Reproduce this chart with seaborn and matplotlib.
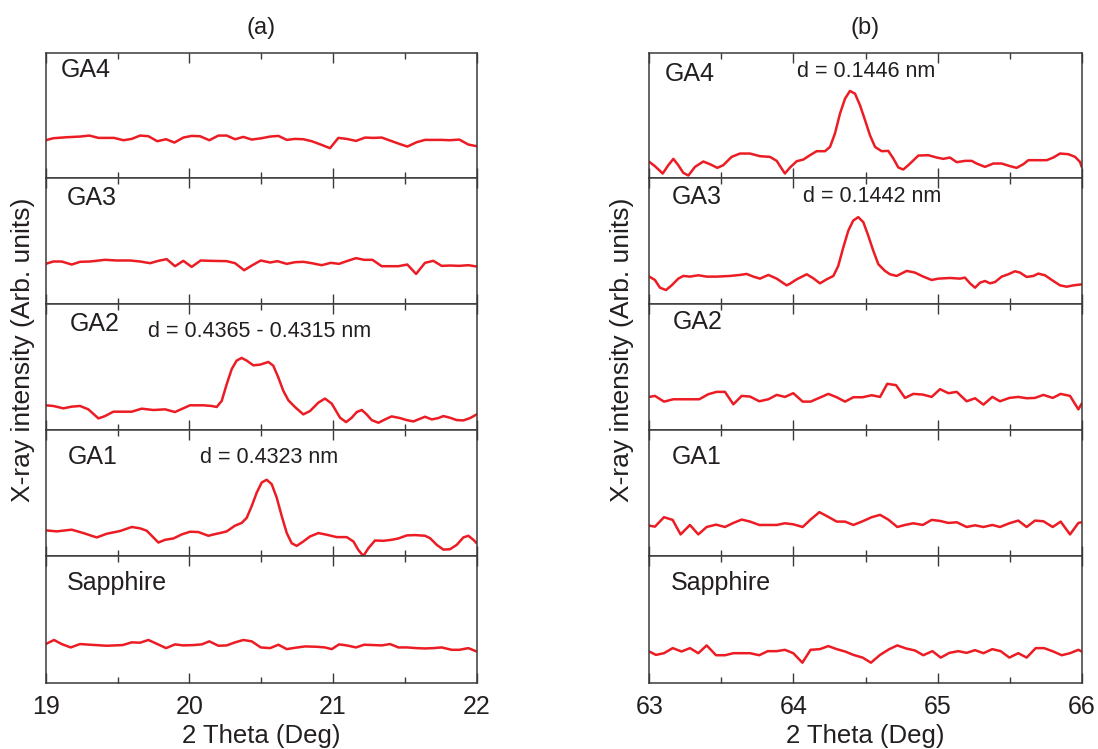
import matplotlib
matplotlib.use("Agg")
import matplotlib.pyplot as plt
import seaborn as sns

# ---------------- data (2θ in degrees, intensity in arbitrary units) -------------
a_ga4_x = [19.000, 19.053, 19.146, 19.239, 19.304, 19.367, 19.476, 19.541, 19.599, 19.657,
           19.715, 19.777, 19.838, 19.896, 19.958, 20.016, 20.074, 20.139, 20.202, 20.260,
           20.318, 20.376, 20.434, 20.503, 20.562, 20.620, 20.678, 20.736, 20.794, 20.852,
           20.921, 20.979, 21.037, 21.095, 21.160, 21.223, 21.281, 21.339, 21.397, 21.455,
           21.517, 21.582, 21.640, 21.698, 21.756, 21.814, 21.879, 21.942, 22.000]
a_ga4_y = [112, 118, 121, 123, 126, 119, 119, 112, 116, 126,
           124, 109, 115, 105, 120, 125, 124, 112, 126, 126,
           115, 122, 114, 118, 123, 125, 113, 116, 115, 109,
           98, 88, 119, 116, 110, 120, 119, 120, 111, 102,
           93, 106, 113, 113, 113, 112, 114, 99, 94]

a_ga3_x = [19.000, 19.053, 19.111, 19.181, 19.239, 19.309, 19.413, 19.494, 19.587, 19.657,
           19.727, 19.784, 19.842, 19.900, 19.958, 20.016, 20.079, 20.144, 20.260, 20.318,
           20.381, 20.439, 20.497, 20.562, 20.613, 20.678, 20.736, 20.794, 20.852, 20.921,
           20.984, 21.042, 21.095, 21.160, 21.216, 21.274, 21.339, 21.397, 21.455, 21.517,
           21.578, 21.640, 21.698, 21.756, 21.814, 21.879, 21.942, 22.000]
a_ga3_y = [118, 125, 125, 116, 124, 125, 130, 128, 128, 125,
           120, 127, 132, 111, 127, 109, 128, 127, 126, 120,
           99, 114, 128, 122, 126, 118, 123, 124, 120, 114,
           121, 118, 126, 135, 130, 130, 111, 111, 111, 116,
           88, 121, 127, 112, 113, 112, 114, 110]

a_ga2_x = [19.000, 19.053, 19.123, 19.181, 19.239, 19.297, 19.367, 19.413, 19.471, 19.529,
           19.599, 19.668, 19.749, 19.831, 19.900, 20.004, 20.097, 20.155, 20.190, 20.225,
           20.260, 20.295, 20.329, 20.364, 20.399, 20.445, 20.492, 20.550, 20.584, 20.619,
           20.654, 20.689, 20.735, 20.793, 20.840, 20.898, 20.944, 20.991, 21.049, 21.091,
           21.130, 21.165, 21.200, 21.234, 21.269, 21.316, 21.362, 21.408, 21.466, 21.513,
           21.559, 21.606, 21.640, 21.687, 21.733, 21.768, 21.814, 21.861, 21.907, 21.954,
           22.000]
a_ga2_y = [72, 70, 63, 68, 70, 60, 33, 40, 53, 53,
           53, 62, 58, 60, 52, 72, 72, 70, 67, 85,
           135, 180, 205, 213, 205, 191, 193, 201, 190, 155,
           115, 87, 67, 45, 55, 80, 92, 77, 35, 22,
           35, 52, 58, 45, 28, 20, 30, 39, 34, 28,
           24, 32, 38, 30, 34, 40, 35, 28, 27, 34,
           45]

a_ga1_x = [19.000, 19.077, 19.181, 19.262, 19.355, 19.425, 19.517, 19.599, 19.657, 19.703,
           19.738, 19.784, 19.831, 19.889, 19.947, 20.005, 20.063, 20.132, 20.190, 20.213,
           20.260, 20.318, 20.364, 20.399, 20.434, 20.469, 20.504, 20.538, 20.573, 20.608,
           20.643, 20.678, 20.712, 20.747, 20.793, 20.840, 20.898, 20.956, 21.026, 21.095,
           21.142, 21.176, 21.211, 21.246, 21.292, 21.350, 21.408, 21.455, 21.513, 21.571,
           21.640, 21.675, 21.722, 21.768, 21.814, 21.861, 21.907, 21.942, 21.977, 22.000]
a_ga1_y = [76, 73, 78, 68, 55, 66, 74, 86, 82, 75,
           60, 40, 48, 52, 64, 72, 71, 60, 66, 68,
           73, 90, 98, 113, 148, 188, 218, 226, 213, 173,
           118, 68, 38, 30, 43, 58, 68, 63, 56, 56,
           43, 18, 0, 23, 46, 45, 48, 52, 61, 62,
           60, 53, 33, 19, 20, 33, 55, 60, 48, 38]

a_sap_x = [19.000, 19.058, 19.111, 19.174, 19.239, 19.309, 19.425, 19.536, 19.599, 19.657,
           19.715, 19.777, 19.838, 19.900, 19.958, 20.028, 20.086, 20.139, 20.202, 20.260,
           20.318, 20.376, 20.434, 20.497, 20.562, 20.620, 20.678, 20.736, 20.805, 20.886,
           20.944, 20.991, 21.042, 21.095, 21.160, 21.216, 21.281, 21.339, 21.397, 21.455,
           21.517, 21.582, 21.640, 21.698, 21.756, 21.826, 21.879, 21.942, 22.000]
a_sap_y = [115, 127, 115, 105, 115, 113, 110, 112, 120, 119,
           127, 115, 103, 114, 111, 112, 114, 123, 110, 111,
           120, 127, 123, 105, 103, 113, 100, 104, 108, 107,
           105, 100, 114, 111, 105, 113, 112, 111, 115, 105,
           105, 103, 102, 103, 105, 98, 98, 103, 93]

b_ga4_x = [63.000, 63.039, 63.093, 63.132, 63.167, 63.201, 63.236, 63.271, 63.317, 63.375,
           63.421, 63.472, 63.513, 63.571, 63.629, 63.699, 63.768, 63.837, 63.884, 63.918,
           63.941, 63.976, 64.023, 64.069, 64.115, 64.161, 64.219, 64.254, 64.288, 64.323,
           64.358, 64.392, 64.427, 64.462, 64.497, 64.531, 64.566, 64.612, 64.658, 64.693,
           64.728, 64.762, 64.797, 64.867, 64.936, 64.994, 65.040, 65.086, 65.133, 65.190,
           65.237, 65.271, 65.329, 65.387, 65.445, 65.503, 65.549, 65.595, 65.630, 65.688,
           65.757, 65.803, 65.850, 65.907, 65.954, 65.988, 66.000]
b_ga4_y = [47, 34, 12, 37, 56, 37, 14, 6, 32, 48,
           40, 29, 37, 62, 72, 72, 64, 62, 50, 27,
           12, 30, 49, 54, 67, 79, 79, 92, 132, 192,
           237, 260, 252, 217, 172, 127, 92, 79, 80, 57,
           30, 24, 37, 66, 67, 60, 56, 60, 46, 50,
           50, 42, 32, 42, 42, 34, 29, 40, 52, 52,
           52, 60, 72, 70, 62, 47, 32]

b_ga3_x = [63.000, 63.039, 63.074, 63.116, 63.155, 63.201, 63.236, 63.282, 63.340, 63.398,
           63.467, 63.560, 63.629, 63.675, 63.722, 63.768, 63.826, 63.884, 63.953, 63.976,
           64.023, 64.092, 64.138, 64.184, 64.231, 64.277, 64.311, 64.346, 64.381, 64.415,
           64.450, 64.485, 64.519, 64.554, 64.589, 64.635, 64.670, 64.716, 64.786, 64.843,
           64.901, 64.959, 65.005, 65.086, 65.156, 65.190, 65.225, 65.260, 65.295, 65.329,
           65.364, 65.399, 65.445, 65.491, 65.537, 65.572, 65.618, 65.665, 65.699, 65.745,
           65.803, 65.850, 65.896, 65.942, 66.000]
b_ga3_y = [80, 70, 47, 40, 54, 74, 82, 80, 84, 80,
           80, 82, 85, 88, 80, 74, 85, 74, 54, 59,
           72, 87, 75, 60, 72, 82, 112, 167, 217, 247,
           257, 242, 202, 157, 117, 97, 87, 82, 97, 92,
           80, 70, 74, 76, 74, 77, 60, 47, 62, 67,
           60, 64, 80, 87, 96, 92, 79, 82, 89, 84,
           67, 54, 50, 54, 57]

b_ga2_x = [63.000, 63.039, 63.102, 63.167, 63.236, 63.347, 63.409, 63.467, 63.525, 63.583,
           63.641, 63.699, 63.763, 63.826, 63.884, 63.941, 63.999, 64.064, 64.119, 64.184,
           64.242, 64.300, 64.358, 64.416, 64.480, 64.543, 64.601, 64.651, 64.712, 64.774,
           64.832, 64.897, 64.959, 65.017, 65.075, 65.133, 65.202, 65.260, 65.318, 65.380,
           65.433, 65.498, 65.560, 65.618, 65.676, 65.734, 65.799, 65.854, 65.919, 65.977,
           66.000]
b_ga2_y = [97, 100, 83, 90, 90, 90, 105, 112, 112, 75,
           100, 98, 84, 90, 103, 97, 108, 83, 83, 95,
           106, 96, 83, 96, 96, 102, 97, 136, 132, 94,
           106, 104, 97, 120, 108, 112, 84, 93, 74, 97,
           84, 94, 97, 93, 94, 103, 94, 106, 100, 60,
           77]

b_ga1_x = [63.000, 63.039, 63.102, 63.162, 63.217, 63.282, 63.340, 63.398, 63.463, 63.525,
           63.583, 63.641, 63.699, 63.763, 63.884, 63.941, 63.999, 64.064, 64.119, 64.180,
           64.242, 64.300, 64.358, 64.416, 64.480, 64.543, 64.601, 64.658, 64.721, 64.774,
           64.832, 64.897, 64.959, 65.017, 65.075, 65.133, 65.202, 65.260, 65.318, 65.380,
           65.433, 65.498, 65.560, 65.618, 65.676, 65.734, 65.799, 65.854, 65.919, 65.977,
           66.000]
b_ga1_y = [90, 87, 115, 107, 64, 92, 64, 86, 93, 86,
           98, 108, 102, 92, 92, 97, 94, 86, 108, 130,
           116, 102, 102, 92, 103, 115, 122, 108, 86, 92,
           97, 92, 107, 104, 98, 100, 86, 91, 86, 92,
           86, 97, 105, 86, 105, 103, 86, 102, 64, 98,
           100]

b_sap_x = [63.000, 63.046, 63.102, 63.162, 63.224, 63.282, 63.340, 63.398, 63.463, 63.525,
           63.583, 63.699, 63.763, 63.821, 63.884, 63.941, 63.999, 64.062, 64.119, 64.184,
           64.242, 64.300, 64.358, 64.416, 64.480, 64.538, 64.601, 64.665, 64.721, 64.781,
           64.843, 64.901, 64.964, 65.022, 65.082, 65.144, 65.202, 65.260, 65.318, 65.380,
           65.438, 65.498, 65.560, 65.618, 65.681, 65.739, 65.803, 65.861, 65.919, 65.977,
           66.000]
b_sap_y = [93, 83, 88, 103, 93, 103, 88, 111, 82, 82,
           88, 88, 82, 94, 94, 98, 88, 60, 98, 100,
           109, 100, 93, 83, 75, 60, 83, 100, 111, 102,
           96, 82, 94, 75, 89, 94, 89, 97, 88, 100,
           94, 75, 88, 75, 103, 103, 93, 82, 88, 98,
           93]

sample_names = ["GA4", "GA3", "GA2", "GA1", "Sapphire"]
left_series = [(a_ga4_x, a_ga4_y), (a_ga3_x, a_ga3_y), (a_ga2_x, a_ga2_y),
               (a_ga1_x, a_ga1_y), (a_sap_x, a_sap_y)]
right_series = [(b_ga4_x, b_ga4_y), (b_ga3_x, b_ga3_y), (b_ga2_x, b_ga2_y),
                (b_ga1_x, b_ga1_y), (b_sap_x, b_sap_y)]
left_ticks = [19, 20, 21, 22]
right_ticks = [63, 64, 65, 66]
left_notes = {2: "d = 0.4365 - 0.4315 nm", 3: "d = 0.4323 nm"}
right_notes = {0: "d = 0.1446 nm", 1: "d = 0.1442 nm"}

# ---------------- style -------------
sns.set_style("ticks")
plt.rcParams["font.family"] = ["Liberation Sans", "DejaVu Sans"]
LINE = "#ec1c24"
SPINE = "#3a3a3a"
TXT = "#231f20"

W, H = 1098, 749
fig = plt.figure(figsize=(W / 100, H / 100), dpi=100)

def fx(px):
    return px / W

def fy(py):
    return 1 - py / H

panel_tops = [52.7, 177.5, 303.5, 429.5, 556.0]
panel_bot = 683.0
col_lr = [(45.7, 476.7), (649.3, 1081.7)]

label_pos = [
    [(0.035, 0.955), (0.049, 0.93), (0.056, 0.93), (0.052, 0.875), (0.049, 0.88)],
    [(0.036, 0.925), (0.052, 0.94), (0.055, 0.945), (0.052, 0.875), (0.050, 0.88)],
]
note_pos = [
    {2: (0.237, 0.86), 3: (0.358, 0.865)},
    {0: (0.342, 0.935), 1: (0.356, 0.93)},
]

for c, (series, ticks, notes) in enumerate([(left_series, left_ticks, left_notes),
                                             (right_series, right_ticks, right_notes)]):
    l, r = col_lr[c]
    for i in range(5):
        top = panel_tops[i]
        bot = panel_tops[i + 1] if i < 4 else panel_bot
        ax = fig.add_axes([fx(l), fy(bot), fx(r - l), (bot - top) / H])
        x, y = series[i]
        sns.lineplot(x=x, y=y, ax=ax, color=LINE, linewidth=1.8, sort=False)
        ax.set_xlim(ticks[0], ticks[-1])
        ax.set_ylim(0, 375)
        ax.set_yticks([])
        ax.set_ylabel("")
        ax.set_xticks(ticks)
        ax.set_xticks([t + 0.5 for t in ticks[:-1]], minor=True)
        ax.tick_params(axis="x", which="both", direction="in", top=True, bottom=True,
                       color=SPINE, width=1.0)
        ax.tick_params(axis="x", which="major", length=7, pad=9)
        ax.tick_params(axis="x", which="minor", length=4)
        for s in ax.spines.values():
            s.set_visible(True)
            s.set_color(SPINE)
            s.set_linewidth(1.1)
        if i < 4:
            ax.set_xticklabels([])
            ax.set_xlabel("")
        else:
            ax.set_xticklabels([str(t) for t in ticks], fontsize=18, color=TXT)
            ax.set_xlabel("2 Theta (Deg)", fontsize=18.5, color=TXT, labelpad=3)
        lx, ly = label_pos[c][i]
        ax.text(lx, ly, sample_names[i], transform=ax.transAxes, ha="left", va="top",
                fontsize=18, color=TXT)
        if i in notes:
            nx, ny = note_pos[c][i]
            ax.text(nx, ny, notes[i], transform=ax.transAxes, ha="left", va="top",
                    fontsize=15.5, color=TXT)

fig.text(fx(261), fy(28), "(a)", ha="center", va="center", fontsize=17, color=TXT)
fig.text(fx(865.5), fy(28), "(b)", ha="center", va="center", fontsize=17, color=TXT)
fig.text(fx(23), fy(350), "X-ray intensity (Arb. units)", rotation=90,
         ha="center", va="center", fontsize=19, color=TXT)
fig.text(fx(622), fy(350), "X-ray intensity (Arb. units)", rotation=90,
         ha="center", va="center", fontsize=19, color=TXT)

fig.savefig("out.png", dpi=100)
